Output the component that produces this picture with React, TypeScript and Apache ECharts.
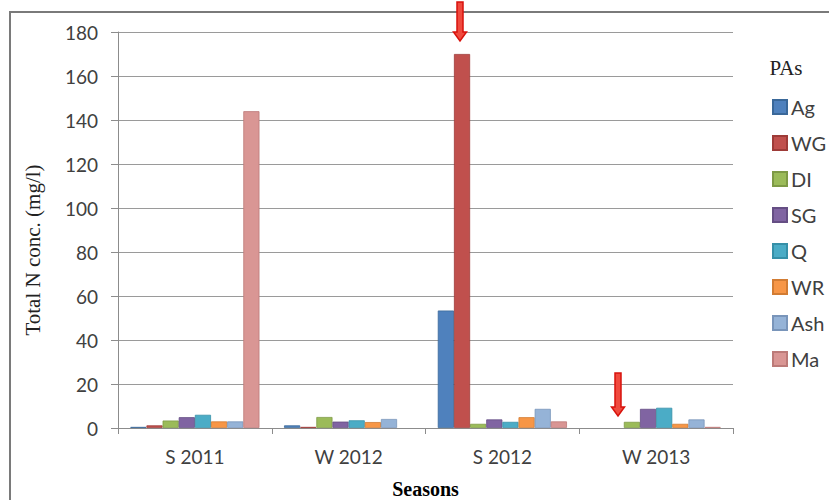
import React, { useEffect, useRef } from "react";
import * as echarts from "echarts";

const seasons = ["S 2011", "W 2012", "S 2012", "W 2013"];
const yTicks = [0, 20, 40, 60, 80, 100, 120, 140, 160, 180];

const agValues = [0.5, 1.2, 53.4, 0];
const wgValues = [1.2, 0.5, 170, 0];
const diValues = [3.4, 5, 1.9, 2.8];
const sgValues = [4.9, 2.9, 3.9, 8.7];
const qValues = [6, 3.5, 2.8, 9.2];
const wrValues = [3, 2.7, 4.9, 1.9];
const ashValues = [3, 4.1, 8.7, 3.9];
const maValues = [144, 0, 3, 0.5];

const paNames = ["Ag", "WG", "DI", "SG", "Q", "WR", "Ash", "Ma"];
const paValues = [agValues, wgValues, diValues, sgValues, qValues, wrValues, ashValues, maValues];
const paColors = ["#4F81BD", "#C0504D", "#9BBB59", "#8064A2", "#4BACC6", "#F79646", "#95B3D7", "#D99694"];
const paBorders = ["#3A6899", "#9E3B38", "#7E9A45", "#654E84", "#3690A8", "#D27C33", "#7995BA", "#BC7A78"];

const serif = "'Liberation Serif', 'DejaVu Serif', serif";
const sans = "Lato, 'Open Sans', sans-serif";

// Block arrow pointing down: shaft from (x, y0), tip at y1
function downArrow(x: number, y0: number, y1: number) {
  const shaftHalf = 3;
  const headHalf = 6.5;
  const headLen = 9;
  return {
    type: "polygon",
    shape: {
      points: [
        [x - shaftHalf, y0],
        [x + shaftHalf, y0],
        [x + shaftHalf, y1 - headLen],
        [x + headHalf, y1 - headLen],
        [x, y1],
        [x - headHalf, y1 - headLen],
        [x - shaftHalf, y1 - headLen],
      ],
    },
    style: { fill: "#F04A3E", stroke: "#D8120C", lineWidth: 1.5 },
    z: 100,
  };
}

export default function App() {
  const ref = useRef<HTMLDivElement>(null);

  useEffect(() => {
    if (!ref.current) return;
    const chart = echarts.init(ref.current, undefined, { renderer: "svg" });

    chart.setOption({
      animation: false,
      backgroundColor: "#ffffff",
      grid: { left: 118, right: 96, top: 32, bottom: 72, containLabel: false, outerBoundsMode: "none" },
      legend: {
        orient: "vertical",
        left: 767,
        top: 92,
        itemWidth: 14,
        itemHeight: 14,
        itemGap: 16,
        icon: "rect",
        data: paNames,
        textStyle: { fontFamily: sans, fontSize: 20, color: "#404040", padding: [0, 0, 0, -1] },
      },
      xAxis: {
        type: "category",
        data: seasons,
        name: "Seasons",
        nameLocation: "middle",
        nameGap: 51,
        nameTextStyle: { fontFamily: serif, fontSize: 20, fontWeight: "bold", color: "#000" },
        axisLine: { lineStyle: { color: "#8c8c8c", width: 1 } },
        axisTick: { show: true, length: 6, lineStyle: { color: "#8c8c8c" } },
        axisLabel: { fontFamily: sans, fontSize: 19, color: "#404040", margin: 19 },
      },
      yAxis: {
        type: "value",
        min: 0,
        max: 180,
        interval: 20,
        axisLine: { show: true, lineStyle: { color: "#8c8c8c", width: 1 } },
        axisTick: { show: true, length: 7, lineStyle: { color: "#8c8c8c" } },
        axisLabel: {
          fontFamily: sans,
          fontSize: 19,
          color: "#404040",
          margin: 20,
          formatter: (v: number) => (yTicks.includes(v) ? String(v) : ""),
        },
        splitLine: { show: true, lineStyle: { color: "#9a9a9a", width: 1 } },
      },
      series: paNames.map((name, i) => ({
        name,
        type: "bar",
        data: paValues[i].map((v) => ({
          value: v,
          itemStyle: v === 0 ? { borderWidth: 0 } : undefined,
        })),
        barGap: "0%",
        barCategoryGap: "16%",
        itemStyle: { color: paColors[i], borderColor: paBorders[i], borderWidth: 0.8 },
      })),
      graphic: [
        {
          type: "rect",
          shape: { x: 10, y: 12, width: 830, height: 500 },
          style: { fill: "none", stroke: "#7a7a7a", lineWidth: 2 },
          silent: true,
        },
        {
          type: "text",
          x: 33,
          y: 250,
          rotation: Math.PI / 2,
          style: {
            text: "Total N conc. (mg/l)",
            font: `21px ${serif}`,
            fill: "#222",
            align: "center",
            verticalAlign: "middle",
          },
        },
        {
          type: "text",
          x: 786,
          y: 68,
          style: {
            text: "PAs",
            font: `21px ${serif}`,
            fill: "#222",
            align: "center",
            verticalAlign: "middle",
          },
        },
        downArrow(460, 2, 41),
        downArrow(618, 373, 416),
      ],
    });

    return () => chart.dispose();
  }, []);

  return <div ref={ref} style={{ width: 829, height: 500, position: "absolute", left: 0, top: 0 }} />;
}
